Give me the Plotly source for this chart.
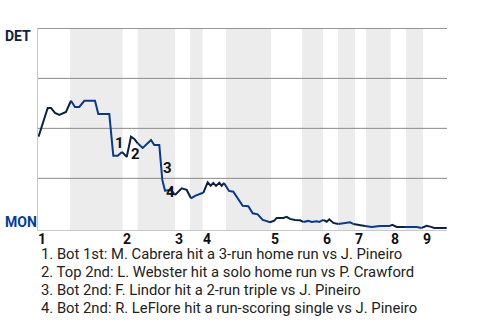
import plotly.graph_objects as go

# play positions (x) and Detroit win probability (y)
play_x = [0.1, 1.94, 2.6, 3.4, 4.26, 5.6, 6.6, 7.4, 8.26, 9.26, 11.4, 12.06, 14.26, 15.06, 15.94,
          16.8, 17.74, 18.6, 19.26, 19.94, 20.94, 22.6, 23.26, 24.26, 24.86, 25.4, 26.6, 27.4, 28.74,
          29.74, 30.6, 31.4, 32.74, 33.06, 33.94, 34.54, 35.06, 35.6, 36.26, 36.74, 37.2, 38.2, 39.06,
          39.6, 40.06, 40.94, 42.06, 42.94, 43.94, 44.94, 45.6, 46.4, 47.26, 47.74, 49.06, 49.74,
          50.4, 51.4, 52.4, 53.06, 54.06, 54.74, 55.74, 56.26, 57.06, 57.74, 58.26, 59.06, 60.06,
          61.4, 62.4, 63.06, 64.06, 65.4, 66.74, 68.4, 70.4, 70.86, 71.74, 73.4, 75.74, 76.74, 77.74,
          78.6, 79.26, 81.74]
det_wp = [0.458, 0.602, 0.602, 0.577, 0.567, 0.582, 0.638, 0.607, 0.607, 0.638, 0.638, 0.572, 0.572,
          0.363, 0.363, 0.382, 0.357, 0.458, 0.447, 0.425, 0.402, 0.442, 0.417, 0.417, 0.242, 0.188,
          0.192, 0.167, 0.2, 0.192, 0.15, 0.162, 0.175, 0.177, 0.23, 0.213, 0.227, 0.212, 0.228, 0.212,
          0.227, 0.187, 0.183, 0.162, 0.142, 0.113, 0.11, 0.075, 0.07, 0.042, 0.037, 0.03, 0.038, 0.052,
          0.052, 0.057, 0.047, 0.042, 0.04, 0.032, 0.037, 0.032, 0.035, 0.032, 0.042, 0.033, 0.045,
          0.027, 0.022, 0.027, 0.03, 0.022, 0.017, 0.012, 0.007, 0.012, 0.012, 0.017, 0.007, 0.007,
          0.007, 0.002, 0.012, 0.007, 0.002, 0.002]

# half-inning boundaries (top/bottom alternating)
half_bounds = [0, 6.4, 16.94, 19.94, 27.4, 30.4, 32.94, 37.6, 46.6, 52.8, 57, 60, 63.4, 65.6,
               70.54, 73.6, 77, 81.8]
inning_labels = ["1", "2", "3", "4", "5", "6", "7", "8", "9"]
grid_levels = [0.25, 0.5, 0.75, 1.0]

event_nums = ["1", "2", "3", "4"]
event_x = [16.2, 19.4, 25.86, 26.54]
event_y = [0.427, 0.372, 0.303, 0.18]
event_texts = [
    "1. Bot 1st: M. Cabrera hit a 3-run home run vs J. Pineiro",
    "2. Top 2nd: L. Webster hit a solo home run vs P. Crawford",
    "3. Bot 2nd: F. Lindor hit a 2-run triple vs J. Pineiro",
    "4. Bot 2nd: R. LeFlore hit a run-scoring single vs J. Pineiro",
]

TOP_COLOR = "#0C2340"
BOT_COLOR = "#06398f"
FONT = "Roboto"


def half_index(xv):
    for i in range(len(half_bounds) - 1):
        if half_bounds[i] <= xv < half_bounds[i + 1]:
            return i
    return len(half_bounds) - 2


fig = go.Figure()

segs = []
for i in range(1, len(play_x)):
    mid = (play_x[i - 1] + play_x[i]) / 2
    col = BOT_COLOR if half_index(mid) % 2 == 1 else TOP_COLOR
    if segs and segs[-1][0] == col:
        segs[-1][1].append(i)
    else:
        segs.append([col, [i - 1, i]])
for col, idx in segs:
    fig.add_trace(go.Scatter(
        x=[play_x[k] for k in idx], y=[det_wp[k] for k in idx],
        mode="lines", line=dict(color=col, width=2), hoverinfo="skip", showlegend=False))

shapes = []
for i in range(1, len(half_bounds) - 1, 2):
    shapes.append(dict(type="rect", xref="x", yref="paper", x0=half_bounds[i], x1=half_bounds[i + 1],
                       y0=0, y1=1, fillcolor="#ececec", line=dict(width=0), layer="below"))
for g in grid_levels:
    shapes.append(dict(type="line", xref="paper", yref="y", x0=0, x1=1, y0=g, y1=g,
                       line=dict(color="#8a8a8a", width=1), layer="below"))

L, R, T, B = 38, 33, 28, 90
W, H = 480, 320
pw, ph = W - L - R, H - T - B


def px_x(v):
    return (v - L) / pw


def px_y(v):
    return 1 - (v - T) / ph


annotations = []
for k, lab in enumerate(inning_labels):
    annotations.append(dict(x=half_bounds[2 * k], y=0, xref="x", yref="paper", text="<b>" + lab + "</b>",
                            showarrow=False, xanchor="center", yanchor="top", xshift=4, yshift=1,
                            font=dict(family=FONT, size=14, color="#111")))
for n, ex, ey in zip(event_nums, event_x, event_y):
    annotations.append(dict(x=ex, y=ey, xref="x", yref="y", text="<b>" + n + "</b>", showarrow=False,
                            font=dict(family=FONT, size=15, color="#111")))
annotations.append(dict(x=px_x(3), y=px_y(35.5), xref="paper", yref="paper", text="<b>DET</b>",
                        showarrow=False, xanchor="left", yanchor="middle",
                        font=dict(family=FONT, size=14, color=TOP_COLOR)))
annotations.append(dict(x=px_x(3), y=px_y(221.7), xref="paper", yref="paper", text="<b>MON</b>",
                        showarrow=False, xanchor="left", yanchor="middle",
                        font=dict(family=FONT, size=14, color="#003DA5")))
for k, t in enumerate(event_texts):
    annotations.append(dict(x=px_x(39), y=px_y(254 + 17.9 * k), xref="paper", yref="paper", text=t,
                            showarrow=False, xanchor="left", yanchor="middle",
                            font=dict(family=FONT, size=14.8, color="#222")))

fig.update_layout(
    width=W, height=H, margin=dict(l=L, r=R, t=T, b=B),
    paper_bgcolor="white", plot_bgcolor="white",
    shapes=shapes, annotations=annotations,
    xaxis=dict(range=[0, 81.8], showgrid=False, zeroline=False, showticklabels=False, ticks="",
               showline=True, linecolor="#c8c8c8", linewidth=1, fixedrange=True),
    yaxis=dict(range=[-0.0085, 1.002], showticklabels=False, showgrid=False, zeroline=False,
               showline=True, linecolor="#c8c8c8", linewidth=1, fixedrange=True),
    showlegend=False,
)

fig.write_html("out.html")
